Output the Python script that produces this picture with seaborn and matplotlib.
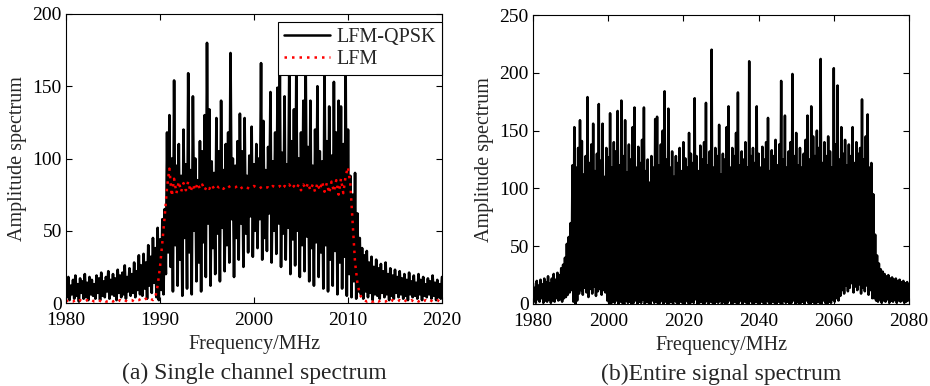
import numpy as np
import pandas as pd
import matplotlib
matplotlib.use("Agg")
import matplotlib.pyplot as plt
import seaborn as sns

# ---------------- data ----------------
# Panel (a): single channel, sampled every 0.25 MHz from 1980 MHz
A_START, A_STEP = 1980.0, 0.25
qpsk_a_peaks = [
    14, 18, 12, 16, 19, 13, 17, 15, 20, 14, 18, 16, 13, 19, 17, 21, 15, 18, 22, 16,
    20, 17, 23, 19, 21, 26, 18, 24, 20, 28, 22, 33,
    26, 34, 28, 40, 32, 45, 38, 52, 44, 58, 65, 118,
    130, 100, 154, 95, 110, 88, 120, 96, 159, 92,
    143, 100, 85, 112, 105, 130, 180, 134, 98, 90,
    128, 105, 140, 92, 110, 118, 173, 100, 95, 112,
    131, 105, 128, 88, 102, 122, 96, 110, 100, 166,
    126, 92, 108, 146, 98, 118, 149, 160, 104, 143,
    96, 162, 112, 134, 160, 100, 118, 140, 165, 108,
    140, 95, 120, 150, 105, 98, 162, 112, 136, 102,
    153, 118, 140, 136, 110, 160, 120,
    88, 75, 90, 62,
    45, 38, 33, 36, 28, 32, 25, 30, 24, 27, 22, 28, 20, 24, 19, 23, 18, 22, 17, 20,
    16, 21, 15, 19, 14, 20, 16, 18, 13, 17, 15, 19, 14, 16, 13, 18,
]
qpsk_a_troughs = [
    4, 2, 6, 3, 5, 1, 7, 3, 4, 2, 6, 5, 3, 7, 2, 5, 4, 8, 3, 6,
    5, 2, 7, 4, 6, 3, 8, 5, 7, 4, 9, 6,
    5, 10, 3, 12, 7, 14, 4, 2, 9, 6, 20, 35,
    25, 8, 40, 12, 30, 5, 45, 10, 35, 6,
    50, 15, 28, 8, 42, 18, 55, 12, 38, 20,
    48, 15, 52, 22, 40, 28, 58, 18, 45, 30,
    55, 25, 48, 35, 60, 32, 50, 38, 58, 30,
    45, 36, 62, 28, 50, 34, 55, 25, 48, 30,
    52, 20, 44, 26, 50, 18, 40, 22, 46, 15,
    38, 12, 42, 18, 35, 10, 40, 8, 30, 12,
    36, 6, 28, 10, 32, 5, 20,
    4, 15, 3, 8,
    6, 3, 8, 4, 7, 2, 6, 5, 3, 7, 4, 6, 2, 5, 3, 7, 4, 6, 3, 5,
    2, 6, 4, 5, 3, 6, 2, 5, 4, 6, 3, 5, 2, 4, 3,
]
lfm_a = [
    1, 2, 1, 1, 2, 1, 2, 1, 1, 2, 1, 2, 1, 1, 2, 1, 2, 1, 1, 2,
    1, 2, 1, 2, 1, 2, 1, 2, 2, 1, 2, 2, 3, 2, 3, 2, 3,
    2, 4, 12, 25, 42, 60, 80, 93,
    74, 86, 76, 84, 77, 83, 78, 84, 77, 82,
    78, 83, 79, 82, 78, 81, 79, 82, 79, 81,
    80, 81, 79, 81, 80, 81, 80, 80, 81, 79,
    80, 81, 80, 79, 80, 81, 80, 79, 80, 81,
    80, 80, 79, 81, 80, 80, 81, 79, 81, 80,
    82, 79, 81, 79, 82, 78, 82, 79, 83, 78,
    82, 77, 83, 78, 84, 77, 83, 76, 84, 77,
    85, 75, 86, 76, 88,
    94, 82, 55, 28, 14, 6, 3, 2,
    1, 2, 1, 1, 2, 1, 2, 1, 1, 2, 1, 2, 1, 1, 2, 1, 2, 1, 1, 2,
    1, 2, 1, 2, 1, 2, 1, 2, 1, 1, 2, 1, 2,
]

# Panel (b): entire signal, sampled every 0.5 MHz from 1980 MHz
B_START, B_STEP = 1980.0, 0.5
qpsk_b_peaks = [
    18, 14, 20, 16, 21, 17, 22, 19, 24, 18, 22, 26, 21, 27, 25, 31, 34, 40, 52, 58, 70,
    120, 153, 118, 135, 159, 141, 112, 128, 179, 122,
    138, 156, 115, 130, 173, 124, 156, 110, 135, 127,
    165, 118, 140, 132, 167, 120, 176, 128, 159, 114,
    138, 125, 153, 170, 118, 136, 122, 142, 170, 115,
    125, 105, 128, 118, 160, 162, 120, 138, 150, 184,
    125, 169, 118, 132, 110, 128, 122, 135, 115, 140,
    126, 118, 148, 130, 122, 178, 128, 115, 137, 125,
    140, 174, 120, 132, 220, 118, 135, 128, 155, 112,
    130, 125, 153, 171, 118, 135, 128, 148, 183, 120,
    132, 125, 140, 118, 210, 128, 135, 122, 171, 130,
    118, 136, 125, 140, 161, 115, 133, 128, 142, 120,
    138, 193, 125, 163, 118, 132, 140, 199, 128, 148,
    120, 135, 118, 130, 142, 163, 125, 171, 145, 128,
    150, 135, 212, 122, 140, 128, 145, 132, 118, 204,
    138, 189, 125, 153, 130, 142, 120, 138, 128, 153,
    122, 140, 130, 135, 177, 125, 145, 164, 118, 122,
    95,
    60, 42, 35, 30, 28, 26, 24, 25, 22, 23, 21, 22, 20, 21, 19, 20, 18, 19, 17,
]
qpsk_b_troughs = [
    3, 1, 4, 2, 5, 1, 3, 2, 4, 1, 3, 2, 5, 3, 4, 2, 5, 6, 8, 10, 12,
    2, 0, 3, 9, 12, 8, 14, 10, 6, 13,
    9, 15, 7, 11, 13, 8, 12, 10, 3, 1,
    0, 2, 1, 3, 0, 2, 1, 0, 3, 1,
    2, 0, 1, 3, 0, 2, 1, 4, 0, 2,
    1, 0, 3, 1, 2, 0, 1, 3, 0, 2,
    0, 1, 2, 0, 3, 1, 0, 2, 1, 0,
    3, 1, 0, 2, 1, 4, 0, 1, 2, 0,
    1, 3, 0, 2, 1, 0, 2, 1, 3, 0,
    2, 0, 1, 3, 0, 1, 2, 0, 1, 3,
    0, 2, 1, 0, 3, 1, 0, 2, 1, 0,
    2, 1, 0, 3, 1, 0, 2, 1, 0, 2,
    1, 0, 3, 1, 2, 0, 1, 3, 0, 2,
    0, 1, 2, 0, 3, 1, 0, 2, 1, 0,
    2, 1, 0, 3, 1, 0, 2, 1, 4, 2,
    5, 3, 7, 12, 9, 16, 11, 14, 18, 10,
    15, 12, 17, 9, 14, 11, 16, 8, 12, 5,
    5, 3, 2, 4, 1, 3, 2, 4, 1, 3, 2, 4, 1, 3, 2, 3, 1, 2, 3,
]

x_ticks_a = [1980, 1990, 2000, 2010, 2020]
y_ticks_a = [0, 50, 100, 150, 200]
x_ticks_b = [1980, 2000, 2020, 2040, 2060, 2080]
y_ticks_b = [0, 50, 100, 150, 200, 250]
series_names = ["LFM-QPSK", "LFM"]
x_label = "Frequency/MHz"
y_label = "Amplitude spectrum"
captions = ["(a) Single channel spectrum", "(b)Entire signal spectrum"]


def interleave(start, step, peaks, troughs):
    fp = start + step * np.arange(len(peaks))
    ft = fp[:len(troughs)] + step / 2
    f = np.empty(len(fp) + len(ft))
    v = np.empty_like(f)
    f[0::2], f[1::2] = fp, ft
    v[0::2], v[1::2] = peaks, troughs
    return pd.DataFrame({"freq": f, "amp": v})


df_a = interleave(A_START, A_STEP, qpsk_a_peaks, qpsk_a_troughs)
df_lfm = pd.DataFrame({"freq": A_START + A_STEP * np.arange(len(lfm_a)), "amp": lfm_a})
df_b = interleave(B_START, B_STEP, qpsk_b_peaks, qpsk_b_troughs)

# ---------------- style ----------------
sns.set_style("ticks")
plt.rcParams["font.family"] = ["Liberation Serif", "DejaVu Serif"]
plt.rcParams["mathtext.fontset"] = "stix"

W, H = 930, 386
fig = plt.figure(figsize=(W / 100, H / 100), dpi=100)


def px_axes(x0, x1, y0, y1):
    return fig.add_axes([x0 / W, 1 - y1 / H, (x1 - x0) / W, (y1 - y0) / H])


ax1 = px_axes(66, 442, 14, 303)
ax2 = px_axes(533, 909, 15, 304)

sns.lineplot(data=df_a, x="freq", y="amp", ax=ax1, color="black", lw=1.9,
             estimator=None, sort=False, label=series_names[0])
sns.lineplot(data=df_lfm, x="freq", y="amp", ax=ax1, color="#ff0000", lw=1.8,
             estimator=None, sort=False, label=series_names[1], dashes=False)
ax1.lines[-1].set_dashes([1.0, 2.0])
sns.lineplot(data=df_b, x="freq", y="amp", ax=ax2, color="black", lw=1.8,
             estimator=None, sort=False)

for ax, xt, yt, cap in [(ax1, x_ticks_a, y_ticks_a, captions[0]),
                        (ax2, x_ticks_b, y_ticks_b, captions[1])]:
    ax.set_xlim(xt[0], xt[-1])
    ax.set_ylim(yt[0], yt[-1])
    ax.set_xticks(xt)
    ax.set_yticks(yt)
    ax.tick_params(direction="in", top=True, right=True, length=4, width=0.8,
                   labelsize=14, colors="black")
    ax.tick_params(axis="x", pad=6.5)
    ax.tick_params(axis="y", pad=3)
    for s in ax.spines.values():
        s.set_visible(True)
        s.set_color("black")
        s.set_linewidth(0.8)
    ax.set_xlabel(x_label, fontsize=14.5, labelpad=4)
    ax.set_ylabel(y_label, fontsize=14.5, labelpad=4)
    ax.text(0.5, -(379 - 303) / 289, cap, transform=ax.transAxes, ha="center",
            va="baseline", fontsize=17)

leg = ax1.legend(loc="upper right", bbox_to_anchor=(1.0, 0.972), borderaxespad=0,
                 fontsize=14.5, frameon=True, fancybox=False, handlelength=2.3,
                 handletextpad=0.3, borderpad=0.3, labelspacing=0.15)
leg.get_frame().set_edgecolor("black")
leg.get_frame().set_linewidth(0.8)
leg.get_frame().set_alpha(1)
for h in leg.get_lines():
    h.set_linewidth(1.8)
if ax2.get_legend():
    ax2.get_legend().remove()

fig.savefig("out.png", dpi=100)
